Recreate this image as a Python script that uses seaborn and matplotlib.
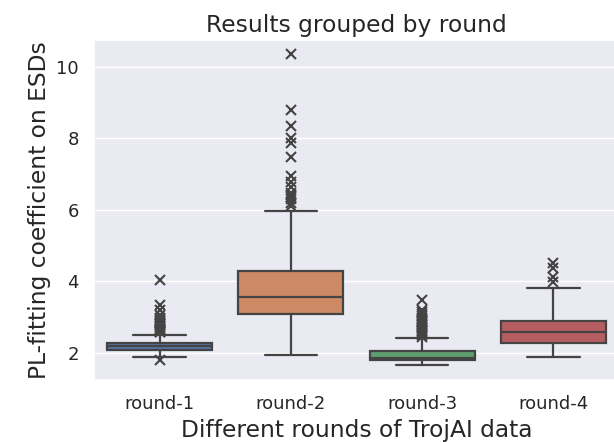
import matplotlib
matplotlib.use("Agg")
import matplotlib.pyplot as plt
import numpy as np
import pandas as pd
import seaborn as sns

# Category names
rounds = ["round-1", "round-2", "round-3", "round-4"]

# PL-fitting coefficient samples per round (read off the box plot:
# whiskers, quartiles, median and individual outliers)
round1 = [1.80, 1.89, 1.93, 1.96, 1.98, 2.00, 2.01, 2.02, 2.03, 2.04,
          2.04, 2.05, 2.05, 2.06, 2.06, 2.07, 2.07, 2.08, 2.08, 2.09,
          2.09,
          2.10, 2.10, 2.11, 2.11, 2.12, 2.12, 2.13, 2.13, 2.14, 2.14,
          2.15, 2.15, 2.15, 2.16, 2.16, 2.16, 2.17, 2.17, 2.17,
          2.18,
          2.18, 2.19, 2.19, 2.19, 2.20, 2.20, 2.21, 2.21, 2.22, 2.22,
          2.23, 2.23, 2.24, 2.24, 2.25, 2.25, 2.26, 2.26, 2.27,
          2.27,
          2.50, 2.57, 2.59, 2.61, 2.63, 2.66, 2.68, 2.71, 2.74, 2.77,
          2.80, 2.83, 2.86, 2.90, 2.93, 2.97, 3.05, 3.19, 3.33, 4.03]

round2 = [1.94, 2.20, 2.38, 2.50, 2.60, 2.68, 2.74, 2.80, 2.85, 2.90,
          2.94, 2.97, 3.00, 3.03, 3.05, 3.07,
          3.09,
          3.12, 3.15, 3.18, 3.21, 3.24, 3.27, 3.30, 3.33, 3.36, 3.39,
          3.42, 3.45, 3.48, 3.51, 3.54,
          3.56,
          3.60, 3.64, 3.68, 3.72, 3.76, 3.80, 3.84, 3.88, 3.92, 3.96,
          4.00, 4.05, 4.10, 4.16, 4.22,
          4.28,
          5.98, 6.12, 6.19, 6.30, 6.36, 6.42, 6.47, 6.64, 6.78, 6.95,
          7.47, 7.86, 8.00, 8.34, 8.79, 10.35]

round3 = [1.66, 1.68, 1.70, 1.71, 1.72, 1.73, 1.74, 1.74, 1.75, 1.75,
          1.76, 1.76, 1.77, 1.77, 1.78, 1.78, 1.79, 1.79, 1.79, 1.80,
          1.80,
          1.80, 1.81, 1.81, 1.81, 1.82, 1.82, 1.82, 1.83, 1.83, 1.83,
          1.84, 1.84, 1.84, 1.84, 1.85, 1.85, 1.85, 1.85, 1.86,
          1.86,
          1.87, 1.88, 1.89, 1.90, 1.91, 1.92, 1.93, 1.94, 1.95, 1.96,
          1.97, 1.98, 1.99, 2.00, 2.01, 2.02, 2.03, 2.04, 2.05,
          2.05,
          2.42, 2.45, 2.49, 2.53, 2.57, 2.61, 2.65, 2.69, 2.73, 2.77,
          2.81, 2.85, 2.89, 2.93, 2.97, 3.02, 3.08, 3.14, 3.20, 3.47]

round4 = [1.89, 2.02, 2.10, 2.16, 2.21, 2.25,
          2.27,
          2.33, 2.39, 2.45, 2.50, 2.54,
          2.58,
          2.63, 2.69, 2.74, 2.79, 2.84,
          2.89,
          3.30, 3.81, 3.99, 4.11, 4.36, 4.50]

samples = [round1, round2, round3, round4]

df = pd.DataFrame({
    "round": [r for r, s in zip(rounds, samples) for _ in s],
    "value": [v for s in samples for v in s],
})

sns.set_theme(style="darkgrid")

fig = plt.figure(figsize=(6.14, 4.42), dpi=100)
ax = fig.add_axes([94 / 614, 62 / 442, 525 / 614, 340 / 442])

sns.boxplot(data=df, x="round", y="value", hue="round", order=rounds,
            hue_order=rounds, palette="deep", legend=False, ax=ax,
            width=0.8, linewidth=1.6, linecolor="#444444", fliersize=6.5,
            flierprops={"marker": "x", "markeredgewidth": 1.5})

ax.set_ylim(1.24, 10.75)
ax.set_yticks([2, 4, 6, 8, 10])
ax.set_title("Results grouped by round", fontsize=16.8)
ax.set_xlabel("Different rounds of TrojAI data", fontsize=16.8, labelpad=4)
ax.set_ylabel("PL-fitting coefficient on ESDs", fontsize=16.8)
ax.tick_params(axis="x", labelsize=13, pad=5)
ax.tick_params(axis="y", labelsize=13, pad=5)

fig.savefig("out.png", dpi=100)
